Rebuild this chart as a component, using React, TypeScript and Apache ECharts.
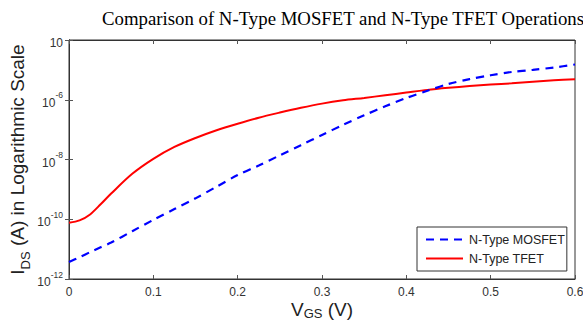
import React, { useEffect, useRef } from "react";
import * as echarts from "echarts";

const vgs = [0, 0.0125, 0.025, 0.0375, 0.05, 0.075, 0.1, 0.125, 0.15, 0.175, 0.2, 0.225, 0.25, 0.275, 0.3, 0.325, 0.35, 0.375, 0.4, 0.425, 0.45, 0.475, 0.5, 0.525, 0.55, 0.575, 0.6];
const mosfet = [3.72e-12, 5.37e-12, 7.94e-12, 1.15e-11, 1.66e-11, 3.98e-11, 9.55e-11, 2.19e-10, 5.01e-10, 1.23e-9, 3.02e-9, 6.31e-9, 1.38e-8, 3.02e-8, 6.61e-8, 1.45e-7, 3.02e-7, 6.03e-7, 1.15e-6, 2.0e-6, 3.39e-6, 4.9e-6, 6.61e-6, 8.51e-6, 1.0e-5, 1.2e-5, 1.51e-5];
const tfet = [7.59e-11, 9.12e-11, 1.45e-10, 3.16e-10, 7.24e-10, 3.31e-9, 1.05e-8, 2.63e-8, 5.25e-8, 9.55e-8, 1.58e-7, 2.51e-7, 3.72e-7, 5.37e-7, 7.41e-7, 9.55e-7, 1.15e-6, 1.41e-6, 1.74e-6, 2.14e-6, 2.51e-6, 2.88e-6, 3.24e-6, 3.55e-6, 3.98e-6, 4.47e-6, 4.9e-6];
const seriesNames = ["N-Type MOSFET", "N-Type TFET"];
const titleText = "Comparison of N-Type MOSFET and N-Type TFET Operations";
const xTicks = [0, 0.6, 0.1];
const yRange = [1e-12, 1e-4];

const FONT = "Liberation Sans, Arial, sans-serif";

export default function App() {
  const ref = useRef<HTMLDivElement>(null);
  useEffect(() => {
    document.body.style.margin = "0";
    const chart = echarts.init(ref.current!, null, { renderer: "svg" });
    const yLabel = (v: number) => {
      const e = Math.round(Math.log10(v));
      if (e === -4) return "{b|10}";
      return "{b|10}{s|" + e + "}";
    };
    const labelRich = {
      b: { fontSize: 12, fontFamily: FONT, color: "#333", lineHeight: 18, verticalAlign: "bottom" },
      s: { fontSize: 8.5, fontFamily: FONT, color: "#333", lineHeight: 18, verticalAlign: "top" },
    };
    const nameRich = {
      m: { fontFamily: FONT, fontSize: 19, color: "#222", lineHeight: 24, verticalAlign: "top" },
      sub: { fontFamily: FONT, fontSize: 13, color: "#222", lineHeight: 24, verticalAlign: "bottom", padding: [9, 0, 0, 0] },
    };
    const xNameRich = {
      m: { fontFamily: FONT, fontSize: 19, color: "#222", lineHeight: 20, verticalAlign: "top" },
      sub: { fontFamily: FONT, fontSize: 13, color: "#222", lineHeight: 20, verticalAlign: "bottom", padding: [9, 0, 0, 0] },
    };
    chart.setOption({
      animation: false,
      title: {
        text: titleText,
        left: 338,
        textAlign: "center",
        top: 4,
        textStyle: { fontFamily: "Liberation Serif, Times New Roman, serif", fontSize: 18.8, fontWeight: "normal", color: "#000" },
      },
      grid: { left: 69, right: 8, top: 40, bottom: 50, show: true, borderColor: "#333", borderWidth: 1, backgroundColor: "#fff", outerBoundsMode: "none", containLabel: false },
      legend: {
        orient: "vertical",
        left: 417,
        top: 227,
        itemWidth: 37,
        itemHeight: 14,
        itemGap: 6,
        padding: [6, 2, 6, 8],
        borderColor: "#333",
        borderWidth: 1,
        backgroundColor: "#fff",
        itemStyle: { opacity: 0 },
        textStyle: { fontFamily: FONT, fontSize: 12.5, color: "#222", padding: [0, 0, 0, 1] },
        data: seriesNames,
      },
      xAxis: [
        {
          type: "value",
          min: xTicks[0],
          max: xTicks[1],
          interval: xTicks[2],
          name: "{m|V}{sub|GS}{m| (V)}",
          nameLocation: "middle",
          nameGap: 21,
          nameMoveOverlap: false,
          nameTextStyle: { rich: xNameRich },
          axisLine: { show: true, lineStyle: { color: "#333" } },
          axisTick: { inside: true, length: 4, lineStyle: { color: "#555" } },
          axisLabel: { fontFamily: FONT, fontSize: 12, color: "#333", margin: 7, formatter: (v: number) => (v === 0 ? "0" : String(Math.round(v * 10) / 10)) },
          splitLine: { show: false },
        },
        {
          type: "value",
          position: "top",
          min: xTicks[0],
          max: xTicks[1],
          interval: xTicks[2],
          axisLine: { show: true, lineStyle: { color: "#333" } },
          axisTick: { inside: true, length: 4, lineStyle: { color: "#555" } },
          axisLabel: { show: false },
          splitLine: { show: false },
        },
      ],
      yAxis: [
        {
          type: "log",
          logBase: 100,
          min: yRange[0],
          max: yRange[1],
          name: "{m|I}{sub|DS}{m| (A) in Logarithmic Scale}",
          nameLocation: "middle",
          nameGap: 37,
          nameMoveOverlap: false,
          nameRotate: 90,
          nameTextStyle: { rich: nameRich },
          axisLine: { show: true, lineStyle: { color: "#333" } },
          axisTick: { inside: true, length: 4, lineStyle: { color: "#555" } },
          axisLabel: { formatter: yLabel, rich: labelRich, margin: 6 },
          splitLine: { show: false },
        },
        {
          type: "log",
          logBase: 100,
          position: "right",
          min: yRange[0],
          max: yRange[1],
          axisLine: { show: true, lineStyle: { color: "#333" } },
          axisTick: { inside: true, length: 4, lineStyle: { color: "#555" } },
          axisLabel: { show: false },
          splitLine: { show: false },
        },
      ],
      series: [
        {
          name: seriesNames[0],
          type: "line",
          data: vgs.map((x, i) => [x, mosfet[i]]),
          smooth: 0.3,
          showSymbol: false,
          symbol: "none",
          lineStyle: { color: "#0000ff", width: 2.2, type: [8, 6] },
          itemStyle: { color: "#0000ff" },
          z: 3,
        },
        {
          name: seriesNames[1],
          type: "line",
          data: vgs.map((x, i) => [x, tfet[i]]),
          smooth: 0.3,
          showSymbol: false,
          symbol: "none",
          lineStyle: { color: "#ff0000", width: 2 },
          itemStyle: { color: "#ff0000" },
          z: 2,
        },
      ],
    });
    return () => chart.dispose();
  }, []);
  return <div ref={ref} style={{ width: 583, height: 329 }} />;
}
